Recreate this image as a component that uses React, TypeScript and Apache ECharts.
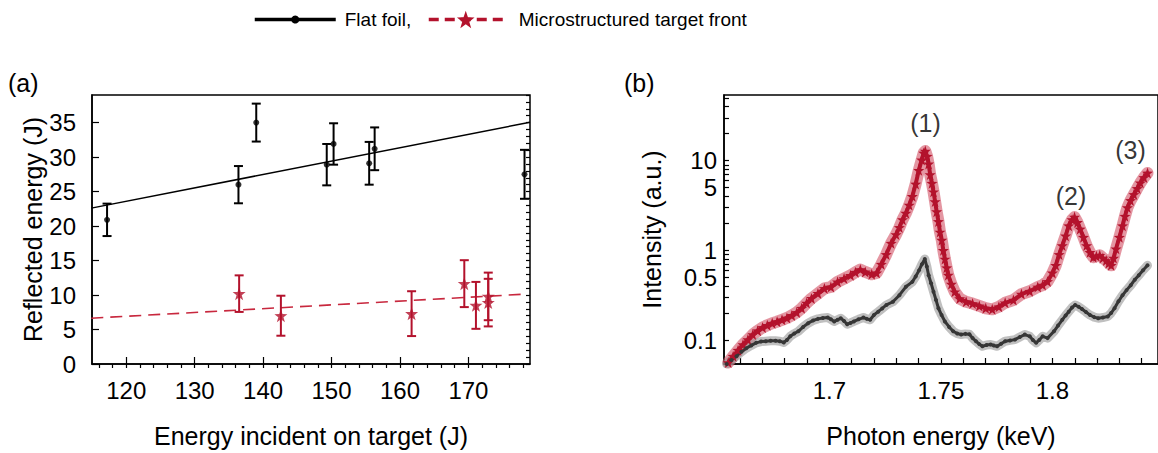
import React, { useEffect, useRef } from "react";
import * as echarts from "echarts";

const FONT = '"Liberation Sans", Arial, Helvetica, sans-serif';
const RED = "#b3122c";
const DARK = "#363636";

// ---------- Panel (a) ----------
const flatEnergy = [117.2, 136.4, 139.0, 149.3, 150.3, 155.5, 156.3, 178.2];
const flatReflected = [20.9, 26.0, 35.0, 28.9, 31.9, 29.1, 31.2, 27.5];
const flatError = [2.35, 2.7, 2.75, 3.0, 3.0, 3.1, 3.1, 3.55];

const microEnergy = [136.5, 142.6, 161.7, 169.4, 171.1, 172.9, 172.9];
const microReflected = [10.2, 7.0, 7.3, 11.65, 8.5, 9.8, 8.9];
const microError = [2.65, 2.9, 3.25, 3.4, 3.4, 3.45, 3.45];

const flatFitEnergy = [114.9, 179.0];
const flatFitReflected = [22.6, 35.05];
const microFitEnergy = [114.9, 177.8];
const microFitReflected = [6.64, 10.1];

const xLabelsA = [120, 130, 140, 150, 160, 170];
const xMinorA = [116, 118, 120, 122, 124, 126, 128, 130, 132, 134, 136, 138, 140, 142, 144, 146, 148, 150, 152, 154, 156, 158, 160, 162, 164, 166, 168, 170, 172, 174, 176, 178];
const yLabelsA = [0, 5, 10, 15, 20, 25, 30, 35];
const yMinorA = [0, 1, 2, 3, 4, 5, 6, 7, 8, 9, 10, 11, 12, 13, 14, 15, 16, 17, 18, 19, 20, 21, 22, 23, 24, 25, 26, 27, 28, 29, 30, 31, 32, 33, 34, 35, 36, 37, 38, 39];

// ---------- Panel (b) ----------
const microPhoton = [1.6547, 1.6569, 1.6591, 1.6613, 1.6635, 1.6657, 1.6679, 1.6701, 1.6722, 1.6744, 1.6766, 1.6788, 1.681, 1.6832, 1.6854, 1.6876, 1.6898, 1.692, 1.6949, 1.6978, 1.7007, 1.7037, 1.7066, 1.7095, 1.7117, 1.7139, 1.7161, 1.719, 1.7212, 1.7233, 1.7255, 1.7277, 1.7299, 1.7314, 1.7328, 1.7343, 1.7358, 1.7372, 1.7387, 1.7401, 1.7414, 1.7423, 1.743, 1.7438, 1.7445, 1.7452, 1.746, 1.7467, 1.7474, 1.7481, 1.7489, 1.7496, 1.7504, 1.7511, 1.7518, 1.7526, 1.7533, 1.7547, 1.7562, 1.7584, 1.7613, 1.7642, 1.7672, 1.7701, 1.773, 1.776, 1.7788, 1.7825, 1.7861, 1.7898, 1.7934, 1.7956, 1.7978, 1.8, 1.8015, 1.803, 1.8044, 1.8059, 1.8073, 1.8088, 1.8099, 1.8112, 1.8124, 1.8139, 1.8153, 1.8168, 1.8183, 1.8197, 1.8212, 1.8226, 1.8241, 1.8252, 1.8263, 1.8274, 1.8285, 1.83, 1.8314, 1.8325, 1.8336, 1.835, 1.8365, 1.838, 1.8394, 1.841, 1.8426];
const microIntensity = [0.056, 0.066, 0.077, 0.089, 0.101, 0.115, 0.127, 0.138, 0.146, 0.154, 0.16, 0.168, 0.176, 0.188, 0.203, 0.226, 0.258, 0.291, 0.331, 0.376, 0.39, 0.445, 0.484, 0.527, 0.57, 0.61, 0.575, 0.54, 0.56, 0.7, 0.9, 1.2, 1.5, 1.8, 2.2, 2.6, 3.2, 4.0, 5.5, 7.8, 10.2, 12.2, 12.8, 11.2, 9.2, 7.0, 5.6, 4.5, 3.5, 2.7, 2.1, 1.6, 1.3, 1.0, 0.8, 0.64, 0.53, 0.42, 0.345, 0.29, 0.267, 0.255, 0.24, 0.226, 0.22, 0.235, 0.26, 0.279, 0.325, 0.35, 0.39, 0.41, 0.45, 0.56, 0.68, 0.9, 1.13, 1.45, 1.88, 2.2, 2.35, 2.05, 1.73, 1.4, 1.13, 0.95, 0.84, 0.86, 0.88, 0.82, 0.77, 0.72, 0.68, 0.82, 1.04, 1.4, 1.88, 2.4, 3.0, 3.6, 4.2, 4.9, 5.66, 6.5, 7.3];

const flatPhoton = [1.654, 1.6562, 1.6584, 1.6606, 1.6628, 1.665, 1.6672, 1.6694, 1.6715, 1.6737, 1.6759, 1.6778, 1.6796, 1.681, 1.6825, 1.6843, 1.6861, 1.6883, 1.6905, 1.6927, 1.6949, 1.6971, 1.6993, 1.7007, 1.7022, 1.7037, 1.7051, 1.7066, 1.708, 1.7095, 1.711, 1.7131, 1.7153, 1.7168, 1.7183, 1.72, 1.7219, 1.7237, 1.7256, 1.7285, 1.7314, 1.7343, 1.7372, 1.7387, 1.7402, 1.7415, 1.7428, 1.7437, 1.7445, 1.7456, 1.7467, 1.7478, 1.7489, 1.7503, 1.7518, 1.7537, 1.7555, 1.7573, 1.7591, 1.761, 1.7628, 1.7642, 1.7657, 1.7672, 1.7686, 1.7705, 1.7723, 1.7737, 1.7752, 1.777, 1.7788, 1.781, 1.7832, 1.7854, 1.7876, 1.7898, 1.7912, 1.7927, 1.7941, 1.7956, 1.7978, 1.8007, 1.8025, 1.8044, 1.8059, 1.8073, 1.8088, 1.8102, 1.8117, 1.8132, 1.815, 1.8168, 1.8187, 1.8205, 1.8226, 1.8248, 1.8263, 1.8278, 1.8296, 1.8314, 1.8332, 1.8351, 1.8369, 1.8387, 1.8406, 1.8426];
const flatIntensity = [0.054, 0.06, 0.066, 0.074, 0.081, 0.087, 0.093, 0.096, 0.097, 0.098, 0.098, 0.097, 0.094, 0.1, 0.11, 0.118, 0.125, 0.14, 0.154, 0.165, 0.172, 0.176, 0.178, 0.17, 0.161, 0.168, 0.175, 0.163, 0.15, 0.155, 0.161, 0.17, 0.178, 0.172, 0.168, 0.19, 0.207, 0.225, 0.246, 0.267, 0.316, 0.392, 0.445, 0.51, 0.598, 0.7, 0.8, 0.66, 0.527, 0.43, 0.345, 0.28, 0.226, 0.19, 0.161, 0.14, 0.125, 0.118, 0.115, 0.117, 0.116, 0.105, 0.097, 0.09, 0.085, 0.088, 0.089, 0.087, 0.085, 0.091, 0.097, 0.099, 0.101, 0.108, 0.115, 0.11, 0.1, 0.093, 0.1, 0.11, 0.105, 0.125, 0.145, 0.168, 0.188, 0.207, 0.23, 0.246, 0.235, 0.222, 0.205, 0.19, 0.18, 0.175, 0.178, 0.183, 0.2, 0.226, 0.27, 0.316, 0.36, 0.408, 0.47, 0.527, 0.6, 0.68];

const peakNames = ["(1)", "(2)", "(3)"];
const peakPhoton = [1.7431, 1.8083, 1.835];
const peakLabelIntensity = [26, 4.04, 13.2];

const xLabelsB = [1.7, 1.75, 1.8];
const xMinorB = [1.66, 1.67, 1.68, 1.69, 1.7, 1.71, 1.72, 1.73, 1.74, 1.75, 1.76, 1.77, 1.78, 1.79, 1.8, 1.81, 1.82, 1.83, 1.84];
const yLabelsB = [0.1, 0.5, 1, 5, 10];
const yMinorB = [0.1, 0.2, 0.3, 0.4, 0.5, 0.6, 0.7, 0.8, 0.9, 1, 2, 3, 4, 5, 6, 7, 8, 9, 10, 20, 30, 40, 50];

const STAR = "path://M0,-10L2.35,-3.24L9.51,-3.09L3.8,1.24L5.88,8.09L0,4L-5.88,8.09L-3.8,1.24L-9.51,-3.09L-2.35,-3.24Z";

const zip = (a: number[], b: number[]) => a.map((v, i) => [v, b[i]]);
const zip3 = (a: number[], b: number[], c: number[]) => a.map((v, i) => [v, b[i], c[i]]);

function errorBars(color: string) {
  return (params: any, api: any) => {
    const x = api.value(0);
    const y = api.value(1);
    const e = api.value(2);
    const top = api.coord([x, y + e]);
    const bot = api.coord([x, y - e]);
    const hw = 4.5;
    const style = { stroke: color, lineWidth: 2 };
    return {
      type: "group",
      children: [
        { type: "line", shape: { x1: top[0], y1: top[1], x2: bot[0], y2: bot[1] }, style },
        { type: "line", shape: { x1: top[0] - hw, y1: top[1], x2: top[0] + hw, y2: top[1] }, style },
        { type: "line", shape: { x1: bot[0] - hw, y1: bot[1], x2: bot[0] + hw, y2: bot[1] }, style },
      ],
    };
  };
}

const fmt = (v: number) => `${parseFloat(Number(v).toPrecision(6))}`;

export default function App() {
  const ref = useRef<HTMLDivElement>(null);
  useEffect(() => {
    if (!ref.current) return;
    const chart = echarts.init(ref.current, undefined, { renderer: "svg" });
    const tickText = { fontSize: 24, color: "#000", fontFamily: FONT };
    const titleText = { fontSize: 25, color: "#000", fontFamily: FONT };
    const legendText = { fontSize: 19, color: "#000", fontFamily: FONT, padding: [0, 0, 0, 4] };
    const minorAxis = (gridIndex: number, type: string, min: number, max: number, ticks: number[], len: number) => ({
      gridIndex,
      type,
      min,
      max,
      axisLine: { show: false },
      axisLabel: { show: false },
      splitLine: { show: false },
      axisTick: { show: true, inside: true, length: len, customValues: ticks, lineStyle: { color: "#000", width: 1.2 } },
    });
    const option: any = {
      animation: false,
      backgroundColor: "#fff",
      textStyle: { fontFamily: FONT },
      legend: [
        {
          data: ["Flat foil,"],
          left: 248,
          top: 5,
          itemWidth: 81,
          itemHeight: 10,
          lineStyle: { width: 3.5 },
          textStyle: legendText,
          selectedMode: false,
        },
        {
          data: ["Microstructured target front"],
          left: 422,
          top: 5,
          itemWidth: 74,
          itemHeight: 22,
          lineStyle: { width: 3.5 },
          textStyle: { ...legendText, padding: [0, 0, 0, 11] },
          selectedMode: false,
        },
      ],
      grid: [
        { left: 92, right: 628, top: 95, bottom: 88, show: true, borderColor: "#000", borderWidth: 1.5, backgroundColor: "transparent" },
        { left: 724, right: -10, top: 95, bottom: 88, show: true, borderColor: "#000", borderWidth: 1.5, backgroundColor: "transparent" },
      ],
      xAxis: [
        {
          gridIndex: 0,
          type: "value",
          min: 115,
          max: 179,
          axisLine: { show: true, lineStyle: { color: "#000", width: 1.5 } },
          axisTick: { show: true, inside: true, length: 7, customValues: xLabelsA, lineStyle: { color: "#000", width: 1.2 } },
          axisLabel: { customValues: xLabelsA, margin: 14, ...tickText },
          splitLine: { show: false },
          name: "Energy incident on target (J)",
          nameLocation: "middle",
          nameGap: 59,
          nameTextStyle: titleText,
        },
        minorAxis(0, "value", 115, 179, xMinorA, 4),
        {
          gridIndex: 1,
          type: "value",
          min: 1.6528,
          max: 1.8473,
          axisLine: { show: true, lineStyle: { color: "#000", width: 1.5 } },
          axisTick: { show: true, inside: true, length: 6, customValues: xMinorB, lineStyle: { color: "#000", width: 1.2 } },
          axisLabel: { customValues: xLabelsB, margin: 14, formatter: fmt, ...tickText },
          splitLine: { show: false },
          name: "Photon energy (keV)",
          nameLocation: "middle",
          nameGap: 59,
          nameTextStyle: titleText,
        },
      ],
      yAxis: [
        {
          gridIndex: 0,
          type: "value",
          min: 0,
          max: 39,
          axisLine: { show: true, lineStyle: { color: "#000", width: 1.5 } },
          axisTick: { show: true, inside: true, length: 7, customValues: yLabelsA, lineStyle: { color: "#000", width: 1.2 } },
          axisLabel: { customValues: yLabelsA, margin: 16, ...tickText },
          splitLine: { show: false },
          name: "Reflected energy (J)",
          nameLocation: "middle",
          nameGap: 47,
          nameRotate: 90,
          nameTextStyle: titleText,
        },
        minorAxis(0, "value", 0, 39, yMinorA, 4),
        {
          gridIndex: 1,
          type: "log",
          logBase: 10,
          min: 0.054,
          max: 54,
          axisLine: { show: true, lineStyle: { color: "#000", width: 1.5 } },
          axisTick: { show: true, inside: true, length: 5, customValues: yMinorB, lineStyle: { color: "#000", width: 1.2 } },
          axisLabel: { customValues: yLabelsB, margin: 7, formatter: fmt, ...tickText },
          splitLine: { show: false },
          name: "Intensity (a.u.)",
          nameLocation: "middle",
          nameGap: 60,
          nameRotate: 90,
          nameTextStyle: titleText,
        },
      ],
      series: [
        // legend entries
        {
          name: "Flat foil,",
          type: "line",
          xAxisIndex: 0,
          yAxisIndex: 0,
          data: [],
          symbol: "circle",
          symbolSize: 8,
          itemStyle: { color: "#000" },
          lineStyle: { color: "#000", width: 3.5 },
        },
        {
          name: "Microstructured target front",
          type: "line",
          xAxisIndex: 0,
          yAxisIndex: 0,
          data: [],
          symbol: STAR,
          symbolSize: 18,
          itemStyle: { color: RED },
          lineStyle: { color: RED, width: 3.5, type: [10, 6] },
        },
        // fits
        {
          type: "line",
          xAxisIndex: 0,
          yAxisIndex: 0,
          data: zip(flatFitEnergy, flatFitReflected),
          symbol: "none",
          lineStyle: { color: "#000", width: 1.5 },
          silent: true,
          z: 2,
        },
        {
          type: "line",
          xAxisIndex: 0,
          yAxisIndex: 0,
          data: zip(microFitEnergy, microFitReflected),
          symbol: "none",
          lineStyle: { color: "#c8283e", width: 1.6, type: [12, 7] },
          silent: true,
          z: 2,
        },
        // error bars
        {
          type: "custom",
          xAxisIndex: 0,
          yAxisIndex: 0,
          data: zip3(flatEnergy, flatReflected, flatError),
          renderItem: errorBars("#000"),
          encode: { x: 0, y: 1 },
          z: 3,
        },
        {
          type: "custom",
          xAxisIndex: 0,
          yAxisIndex: 0,
          data: zip3(microEnergy, microReflected, microError),
          renderItem: errorBars(RED),
          encode: { x: 0, y: 1 },
          z: 3,
        },
        // points
        {
          type: "scatter",
          xAxisIndex: 0,
          yAxisIndex: 0,
          data: zip(flatEnergy, flatReflected),
          symbol: "circle",
          symbolSize: 6,
          itemStyle: { color: "#000" },
          z: 4,
        },
        {
          type: "scatter",
          xAxisIndex: 0,
          yAxisIndex: 0,
          data: zip(microEnergy, microReflected),
          symbol: STAR,
          symbolSize: 13,
          itemStyle: { color: RED },
          z: 4,
        },
        // panel (b) bands
        {
          type: "line",
          xAxisIndex: 2,
          yAxisIndex: 2,
          data: zip(microPhoton, microIntensity),
          symbol: "none",
          lineStyle: { color: "rgba(210, 80, 100, 0.6)", width: 12, join: "round", cap: "round" },
          silent: true,
          z: 2,
        },
        {
          type: "line",
          xAxisIndex: 2,
          yAxisIndex: 2,
          data: zip(flatPhoton, flatIntensity),
          symbol: "none",
          lineStyle: { color: "rgba(150, 150, 150, 0.6)", width: 9, join: "round", cap: "round" },
          silent: true,
          z: 2,
        },
        // panel (b) curves
        {
          type: "line",
          xAxisIndex: 2,
          yAxisIndex: 2,
          data: zip(microPhoton, microIntensity),
          symbol: STAR,
          symbolSize: 11,
          showAllSymbol: true,
          itemStyle: { color: RED },
          lineStyle: { color: RED, width: 4 },
          z: 3,
        },
        {
          type: "line",
          xAxisIndex: 2,
          yAxisIndex: 2,
          data: zip(flatPhoton, flatIntensity),
          symbol: "circle",
          symbolSize: 4,
          showAllSymbol: true,
          itemStyle: { color: DARK },
          lineStyle: { color: DARK, width: 3 },
          z: 3,
        },
        // peak labels
        {
          type: "scatter",
          xAxisIndex: 2,
          yAxisIndex: 2,
          data: peakPhoton.map((x, i) => ({ name: peakNames[i], value: [x, peakLabelIntensity[i]] })),
          symbol: "circle",
          symbolSize: 1,
          itemStyle: { color: "rgba(0,0,0,0)" },
          label: { show: true, position: "inside", formatter: (p: any) => p.name, ...titleText },
          silent: true,
          z: 5,
        },
      ],
      graphic: [
        { type: "text", left: 8, top: 70, style: { text: "(a)", fontSize: 25, fill: "#000", fontFamily: FONT } },
        { type: "text", left: 624, top: 70, style: { text: "(b)", fontSize: 25, fill: "#000", fontFamily: FONT } },
      ],
    };
    chart.setOption(option);
    return () => chart.dispose();
  }, []);
  return <div ref={ref} style={{ position: "absolute", left: 0, top: 0, width: 1158, height: 453 }} />;
}
